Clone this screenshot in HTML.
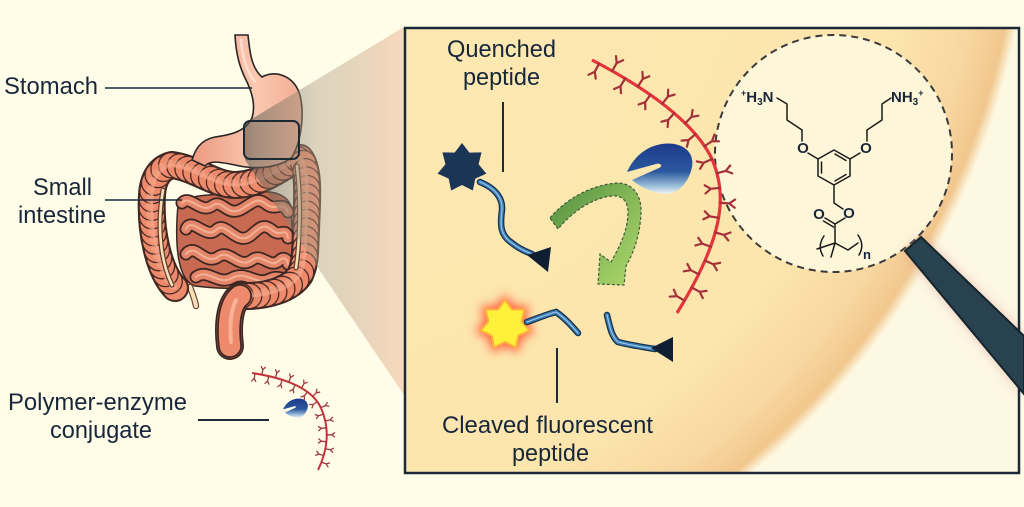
<!DOCTYPE html>
<html><head><meta charset="utf-8">
<style>
html,body{margin:0;padding:0;background:#fffde8;width:1024px;height:507px;overflow:hidden;}
svg{display:block;}
text{font-family:"Liberation Sans",Arial,sans-serif;fill:#17263a;}
</style></head><body>
<svg width="1024" height="507" viewBox="0 0 1024 507" xmlns="http://www.w3.org/2000/svg" xmlns:xlink="http://www.w3.org/1999/xlink">
<defs>
  <radialGradient id="sph" gradientUnits="userSpaceOnUse" cx="253" cy="-125" r="779">
    <stop offset="0" stop-color="#fde9b4"/>
    <stop offset="0.84" stop-color="#fce6ad"/>
    <stop offset="0.94" stop-color="#f8d7a0"/>
    <stop offset="0.985" stop-color="#f1c78e"/>
    <stop offset="1" stop-color="#fdf8e2"/>
  </radialGradient>
  <linearGradient id="wedge" gradientUnits="userSpaceOnUse" x1="245" y1="0" x2="404" y2="0">
    <stop offset="0" stop-color="#4e4e46" stop-opacity="0.55"/>
    <stop offset="0.45" stop-color="#b2a28a" stop-opacity="0.45"/>
    <stop offset="1" stop-color="#f4c6a4" stop-opacity="0.65"/>
  </linearGradient>
  <linearGradient id="stom" gradientUnits="userSpaceOnUse" x1="195" y1="0" x2="305" y2="0">
    <stop offset="0" stop-color="#ec9c82"/>
    <stop offset="0.55" stop-color="#fac8b0"/>
    <stop offset="1" stop-color="#f2ab92"/>
  </linearGradient>
  <linearGradient id="enz" x1="0" y1="0" x2="0" y2="1">
    <stop offset="0" stop-color="#1d3a8a"/>
    <stop offset="0.55" stop-color="#2b589e"/>
    <stop offset="0.85" stop-color="#9fc2dc"/>
    <stop offset="1" stop-color="#f4f5ee"/>
  </linearGradient>
  <linearGradient id="grn" gradientUnits="userSpaceOnUse" x1="550" y1="200" x2="640" y2="275">
    <stop offset="0" stop-color="#5a9544"/>
    <stop offset="1" stop-color="#acd66a"/>
  </linearGradient>
  <filter id="glow" x="-50%" y="-50%" width="200%" height="200%"><feGaussianBlur stdDeviation="5"/></filter>
  <filter id="soft" x="-50%" y="-50%" width="200%" height="200%"><feGaussianBlur stdDeviation="6"/></filter>
  <clipPath id="pc"><rect x="0" y="0" width="1024" height="507"/></clipPath>
  <polygon id="star" points="0,-1 0.295,-0.613 0.782,-0.624 0.663,-0.151 0.975,0.223 0.532,0.424 0.434,0.901 0,0.68 -0.434,0.901 -0.532,0.424 -0.975,0.223 -0.663,-0.151 -0.782,-0.624 -0.295,-0.613"/>
  <path id="enzP" d="M627,172 C633,158 646,146 662,144 C682,141 695,152 692,167 C689,182 678,195 664,194 C652,193 640,187 632,180 L659,168 Q664,165 658,163.5 Z"/>
</defs>

<rect x="0" y="0" width="1024" height="507" fill="#fffde8"/>

<!-- ===== ORGANS ===== -->
<path d="M178,205 C185,192 230,195 260,192 C280,190 294,200 291,215 C294,240 293,265 283,281 C260,291 220,289 195,286 C179,281 174,250 178,205 Z" fill="#c86a52" stroke="#3b2622" stroke-width="1.5"/>
<g fill="none" stroke-linecap="round" stroke-linejoin="round">
  <g stroke="#3b2622" stroke-width="13">
    <path id="si1" d="M182,203 C190,194 200,214 212,206 C222,198 226,216 240,210 C252,204 256,196 266,204 C276,212 282,200 288,212"/>
    <path id="si2" d="M186,229 C192,216 206,240 216,230 C226,220 236,246 250,236 C258,230 262,222 272,230 C280,238 286,226 288,238"/>
    <path id="si3" d="M186,254 C196,242 204,266 218,257 C230,248 238,270 252,260 C262,252 270,270 280,260 C284,256 288,260 288,264"/>
    <path id="si4" d="M196,277 C208,268 218,286 232,278 C246,270 256,286 270,279 C278,275 283,280 286,278"/>
  </g>
  <g stroke="#e4866a" stroke-width="9.5">
    <path d="M182,203 C190,194 200,214 212,206 C222,198 226,216 240,210 C252,204 256,196 266,204 C276,212 282,200 288,212"/>
    <path d="M186,229 C192,216 206,240 216,230 C226,220 236,246 250,236 C258,230 262,222 272,230 C280,238 286,226 288,238"/>
    <path d="M186,254 C196,242 204,266 218,257 C230,248 238,270 252,260 C262,252 270,270 280,260 C284,256 288,260 288,264"/>
    <path d="M196,277 C208,268 218,286 232,278 C246,270 256,286 270,279 C278,275 283,280 286,278"/>
  </g>
  <g stroke="#f3b095" stroke-width="2">
    <path d="M182,203 C190,194 200,214 212,206 C222,198 226,216 240,210 C252,204 256,196 266,204 C276,212 282,200 288,212"/>
    <path d="M186,229 C192,216 206,240 216,230 C226,220 236,246 250,236 C258,230 262,222 272,230 C280,238 286,226 288,238"/>
    <path d="M186,254 C196,242 204,266 218,257 C230,248 238,270 252,260 C262,252 270,270 280,260 C284,256 288,260 288,264"/>
    <path d="M196,277 C208,268 218,286 232,278 C246,270 256,286 270,279 C278,275 283,280 286,278"/>
  </g>
</g>
<path d="M190,287 C193,295 195,300 196,306" fill="none" stroke="#6a4a3a" stroke-width="6.5" stroke-linecap="round"/>
<path d="M190,287 C193,295 195,300 196,306" fill="none" stroke="#f6dfb8" stroke-width="4" stroke-linecap="round"/>
<!-- colon -->
<g fill="none" stroke-linejoin="round" stroke-linecap="round">
  <path d="M175,288 C158,270 150,230 152,195 C153,178 160,168 172,165 C195,168 215,185 235,185 C260,185 280,168 300,158 C310,170 307,200 306,230 C305,250 306,262 300,275 C290,290 265,297 240,296 C228,305 228,330 230,346" stroke="#3b2622" stroke-width="28"/>
  <path d="M175,288 C158,270 150,230 152,195 C153,178 160,168 172,165 C195,168 215,185 235,185 C260,185 280,168 300,158 C310,170 307,200 306,230 C305,250 306,262 300,275 C290,290 265,297 240,296 C228,305 228,330 230,346" stroke="#ee8a6c" stroke-width="24.5"/>
</g>
<g id="beads"></g>
<path id="colonPath" d="M175,288 C158,270 150,230 152,195 C153,178 160,168 172,165 C195,168 215,185 235,185 C260,185 280,168 300,158 C310,170 307,200 306,230 C305,250 306,262 300,275 C290,290 265,297 240,296" fill="none" stroke="none"/>
<g fill="none" stroke-linecap="round">
  <path d="M175,288 C158,270 150,230 152,195 C153,178 160,168 172,165 C195,168 215,185 235,185 C260,185 280,168 300,158 C310,170 307,200 306,230 C305,250 306,262 300,275 C290,290 265,297 240,296 C228,305 228,330 230,346" stroke="#f5a78a" stroke-width="3" stroke-opacity="0.6"/>
  <path d="M172,285 C160,260 157,225 163,190" stroke="#5a3a30" stroke-width="5"/>
  <path d="M172,285 C160,260 157,225 163,190" stroke="#f7dfb5" stroke-width="2.6"/>
  <path d="M297,166 C301,200 300,240 296,268" stroke="#5a3a30" stroke-width="5"/>
  <path d="M297,166 C301,200 300,240 296,268" stroke="#f7dfb5" stroke-width="2.6"/>
</g>
<!-- rectum -->
<path d="M240,296 C228,305 228,330 230,346" fill="none" stroke="#3b2622" stroke-width="24" stroke-linecap="round"/>
<path d="M240,296 C228,305 228,330 230,346" fill="none" stroke="#ee8a6c" stroke-width="20.5" stroke-linecap="round"/>
<path d="M236,300 C230,312 230,330 231,342" fill="none" stroke="#f8b296" stroke-width="4" stroke-linecap="round"/>
<!-- stomach -->
<path d="M235,35 L248,35 C250,55 252,68 262,77 C275,70 292,75 299,92 C305,110 302,140 292,157 C280,168 255,170 235,165 C220,162 210,160 205,166 L192,160 C195,150 200,140 215,137 C230,135 245,132 252,118 C256,105 252,92 246,80 C240,68 236,55 235,35 Z" fill="url(#stom)" stroke="#2a2424" stroke-width="1.6"/>
<path d="M241,40 C243,60 247,72 255,82" fill="none" stroke="#fde6d8" stroke-width="3" stroke-opacity="0.7" stroke-linecap="round"/>

<!-- wedge -->
<polygon points="245,123 404,27 404,395 245,160" fill="url(#wedge)"/>
<rect x="244" y="121" width="55" height="38" rx="6" fill="none" stroke="#1c2a35" stroke-width="2"/>

<!-- left labels -->
<text x="4" y="94" font-size="24" textLength="94" lengthAdjust="spacingAndGlyphs">Stomach</text>
<line x1="105" y1="88" x2="252" y2="88" stroke="#1c2a3a" stroke-width="1.6"/>
<text x="33" y="195" font-size="24" textLength="59" lengthAdjust="spacingAndGlyphs">Small</text>
<text x="18" y="223" font-size="24" textLength="88" lengthAdjust="spacingAndGlyphs">intestine</text>
<line x1="105" y1="200" x2="182" y2="200" stroke="#1c2a3a" stroke-width="1.6"/>
<text x="8" y="410" font-size="24" textLength="179" lengthAdjust="spacingAndGlyphs">Polymer-enzyme</text>
<text x="50" y="438" font-size="24" textLength="102" lengthAdjust="spacingAndGlyphs">conjugate</text>
<line x1="198" y1="420" x2="269" y2="420" stroke="#1c2a3a" stroke-width="2"/>

<!-- small polymer-enzyme -->
<path id="smallPoly" d="M252,373 C285,378 312,388 321,408 C330,428 328,450 318,470" fill="none" stroke="#c8323a" stroke-width="2"/>
<path id="smallPolyy" d="" fill="none" stroke="#9e3a40" stroke-width="1.3" stroke-linecap="round"/>
<use xlink:href="#enzP" href="#enzP" fill="url(#enz)" transform="translate(283 398) scale(0.38) translate(-627 -142)"/>

<!-- ===== PANEL ===== -->
<rect x="405" y="28" width="614" height="445" fill="url(#sph)"/>

<text x="447" y="57" font-size="24" textLength="109" lengthAdjust="spacingAndGlyphs">Quenched</text>
<text x="463" y="85" font-size="24" textLength="77" lengthAdjust="spacingAndGlyphs">peptide</text>
<line x1="503" y1="102" x2="503" y2="172" stroke="#1c2a3a" stroke-width="2"/>
<text x="442" y="433" font-size="24" textLength="211" lengthAdjust="spacingAndGlyphs">Cleaved fluorescent</text>
<text x="512" y="461" font-size="24" textLength="77" lengthAdjust="spacingAndGlyphs">peptide</text>
<line x1="557" y1="348" x2="557" y2="403" stroke="#1c2a3a" stroke-width="2"/>

<!-- quenched peptide -->
<use xlink:href="#star" href="#star" fill="#1b3557" transform="translate(462 168) scale(25)"/>
<g fill="none" stroke-linecap="round">
  <path d="M480,182 C495,188 503,198 502,210 C500,225 500,235 512,243 C518,248 524,251 532,254" stroke="#16304a" stroke-width="6.5"/>
  <path d="M480,182 C495,188 503,198 502,210 C500,225 500,235 512,243 C518,248 524,251 532,254" stroke="#3c7db5" stroke-width="4"/>
  <path d="M480,182 C495,188 503,198 502,210 C500,225 500,235 512,243 C518,248 524,251 532,254" stroke="#9ccbeb" stroke-width="1.1"/>
</g>
<polygon points="527,255 551,247 548,272" fill="#0f1e33"/>

<!-- glowing star + fragments -->
<g filter="url(#glow)"><use xlink:href="#star" href="#star" fill="#ff4a2a" opacity="0.85" transform="translate(505 325) scale(31)"/></g>
<use xlink:href="#star" href="#star" fill="#fff03a" stroke="#ffb13b" stroke-width="0.08" transform="translate(505 325) scale(25)"/>
<g fill="none" stroke-linecap="round">
  <path d="M527,322 C538,318 548,314 556,312 C565,318 572,326 578,333" stroke="#16304a" stroke-width="6.5"/>
  <path d="M527,322 C538,318 548,314 556,312 C565,318 572,326 578,333" stroke="#3c7db5" stroke-width="4"/>
  <path d="M527,322 C538,318 548,314 556,312 C565,318 572,326 578,333" stroke="#9ccbeb" stroke-width="1.1"/>
  <path d="M607,315 C610,328 612,337 618,342 C630,345 642,347 655,349" stroke="#16304a" stroke-width="6.5"/>
  <path d="M607,315 C610,328 612,337 618,342 C630,345 642,347 655,349" stroke="#3c7db5" stroke-width="4"/>
  <path d="M607,315 C610,328 612,337 618,342 C630,345 642,347 655,349" stroke="#9ccbeb" stroke-width="1.1"/>
</g>
<polygon points="651,348 673,337 673,362" fill="#0f1e33"/>

<!-- green arrow -->
<path d="M550,218 C565,200 590,185 617,183 C635,183 642,198 641,214 C640,233 635,250 626,266 L624,285 L598,284 L600,254 L611,262 C620,246 628,230 628,212 C628,201 622,195 612,196 C592,198 572,212 558,229 Z" fill="url(#grn)" stroke="#3d5e3a" stroke-width="1.2" stroke-dasharray="3 2"/>

<!-- enzyme -->
<use xlink:href="#enzP" href="#enzP" fill="url(#enz)"/>

<!-- magnifier circle -->
<circle cx="833.5" cy="153.5" r="118.5" fill="#fdf6d9" stroke="#3a3a3a" stroke-width="2" stroke-dasharray="7 5"/>

<!-- chemistry -->
<g stroke="#1a1a1a" stroke-width="1.5" fill="none" stroke-linecap="round" stroke-linejoin="round">
  <polyline points="777,98 787,104 787,120 802,130 802,141"/>
  <line x1="808" y1="153" x2="818" y2="159"/>
  <polygon points="834,150 850,159 850,176 834,185 818,176 818,159"/>
  <line x1="821.5" y1="162" x2="821.5" y2="173"/>
  <line x1="835" y1="154" x2="846" y2="160.5"/>
  <line x1="846" y1="174.5" x2="835" y2="181"/>
  <line x1="850" y1="159" x2="860" y2="153"/>
  <polyline points="867,141 867,130 882,120 882,104 891,98"/>
  <polyline points="834,185 834,203 843,209"/>
  <line x1="845" y1="218" x2="835" y2="224"/>
  <line x1="835" y1="224" x2="825" y2="218"/>
  <line x1="833.5" y1="227" x2="823.5" y2="221"/>
  <line x1="835" y1="224" x2="835" y2="243"/>
  <line x1="835" y1="243" x2="817" y2="249"/>
  <line x1="835" y1="243" x2="831" y2="257"/>
  <polyline points="835,243 848,250 858,243"/>
  <path d="M824,236 Q817,246 823,256"/>
  <path d="M858,235 Q865,245 859,255"/>
</g>
<g font-size="15" font-weight="bold">
  <text x="741" y="102"><tspan font-size="9" dy="-6">+</tspan><tspan dy="6">H</tspan><tspan font-size="10" dy="3">3</tspan><tspan dy="-3">N</tspan></text>
  <text x="891" y="102">NH<tspan font-size="10" dy="3">3</tspan><tspan font-size="9" dy="-9">+</tspan></text>
  <text x="803" y="153" text-anchor="middle">O</text>
  <text x="866" y="153" text-anchor="middle">O</text>
  <text x="849" y="218" text-anchor="middle">O</text>
  <text x="819" y="219" text-anchor="middle">O</text>
  <text x="863" y="259" font-size="13">n</text>
</g>

<!-- big polymer -->
<path id="bigPoly" d="M592,60 C640,85 690,118 710,155 C730,195 722,240 677,313" fill="none" stroke="#e4353c" stroke-width="3.2"/>
<path id="bigPolyy" d="" fill="none" stroke="#a4303a" stroke-width="2.2" stroke-linecap="round"/>

<!-- handle glow -->
<g filter="url(#soft)" clip-path="url(#pc)"><polygon points="905,251 921,237 1024,336 1024,394" fill="#d98a8a" opacity="0.55"/></g>
<!-- panel border -->
<rect x="405" y="28" width="614" height="445" fill="none" stroke="#1b2a36" stroke-width="2.5"/>
<polygon points="905,251 921,237 1024,336 1024,394" fill="#28434f" stroke="#15252e" stroke-width="2"/>
</svg>
<script>
(function(){
  function ys(id, step, stem, prong, start){
    var p=document.getElementById(id); if(!p||!p.getTotalLength) return;
    var L=p.getTotalLength(), side=1, d='';
    for(var s=start; s<L-2; s+=step){
      var a=p.getPointAtLength(s), b=p.getPointAtLength(Math.min(L,s+1));
      var tx=b.x-a.x, ty=b.y-a.y, n=Math.sqrt(tx*tx+ty*ty)||1; tx/=n; ty/=n;
      var nx=-ty*side, ny=tx*side;
      var ex=a.x+nx*stem, ey=a.y+ny*stem;
      var c=Math.cos(0.62), sn=Math.sin(0.62);
      var p1x=nx*c-ny*sn, p1y=nx*sn+ny*c, p2x=nx*c+ny*sn, p2y=-nx*sn+ny*c;
      d+='M'+a.x.toFixed(1)+','+a.y.toFixed(1)+'L'+ex.toFixed(1)+','+ey.toFixed(1)+
         'M'+ex.toFixed(1)+','+ey.toFixed(1)+'l'+(p1x*prong).toFixed(1)+','+(p1y*prong).toFixed(1)+
         'M'+ex.toFixed(1)+','+ey.toFixed(1)+'l'+(p2x*prong).toFixed(1)+','+(p2y*prong).toFixed(1);
      side=-side;
    }
    document.getElementById(id+'y').setAttribute('d',d);
  }
  ys('bigPoly',15,9,7,8);
  ys('smallPoly',7,5,3.5,3);
  // colon beads
  var cp=document.getElementById('colonPath'), g=document.getElementById('beads');
  if(cp && cp.getTotalLength){
    var L=cp.getTotalLength(), NS='http://www.w3.org/2000/svg', html='';
    for(var s=0;s<=L;s+=8.5){
      var pt=cp.getPointAtLength(s);
      html+='<circle cx="'+pt.x.toFixed(1)+'" cy="'+pt.y.toFixed(1)+'" r="12.6" fill="#ee8a6c" stroke="#4a2a24" stroke-width="1.3"/>';
    }
    for(var s2=0;s2<=L;s2+=8.5){
      var q=cp.getPointAtLength(s2);
      html+='<circle cx="'+(q.x-2).toFixed(1)+'" cy="'+(q.y-2).toFixed(1)+'" r="4" fill="#f6a98c" opacity="0.5"/>';
    }
    g.innerHTML=html;
  }
})();
</script>
</body></html>
